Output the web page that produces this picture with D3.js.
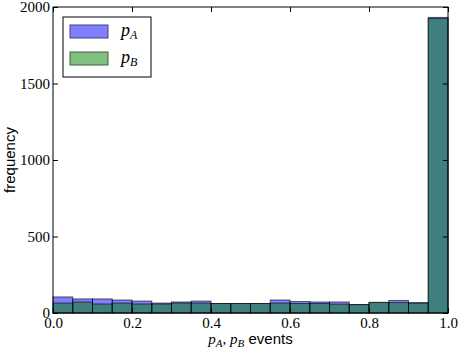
<!DOCTYPE html>
<html><head><meta charset="utf-8">
<script src="https://cdn.jsdelivr.net/npm/d3@7"></script>
<style>
html,body{margin:0;padding:0;background:#fff;}
svg{display:block;}
</style>
</head><body>
<svg id="chart" width="458" height="350"></svg>
<script>
const binEdges = d3.range(0, 21).map(i => i / 20);
const countsA = [105, 92, 92, 85, 78, 65, 72, 78, 62, 62, 62, 85, 75, 72, 72, 55, 68, 82, 68, 1932];
const countsB = [65, 72, 59, 65, 59, 59, 65, 65, 62, 62, 62, 65, 62, 62, 58, 55, 70, 68, 64, 1925];
const xTicks = [0, 0.2, 0.4, 0.6, 0.8, 1.0];
const yTicks = [0, 500, 1000, 1500, 2000];
const seriesNames = ["A", "B"];

const svg = d3.select("#chart");
const L = 53, R = 448, T = 7, B = 313;
const x = d3.scaleLinear().domain([0, 1]).range([L, R]);
const y = d3.scaleLinear().domain([0, 2000]).range([B, T]);

const series = [
  {counts: countsA, fill: "rgb(0,0,255)"},
  {counts: countsB, fill: "rgb(0,128,0)"}
];
series.forEach(s => {
  svg.append("g").selectAll("rect").data(s.counts).join("rect")
    .attr("x", (d, i) => x(binEdges[i]))
    .attr("width", (d, i) => x(binEdges[i + 1]) - x(binEdges[i]))
    .attr("y", d => y(d))
    .attr("height", d => y(0) - y(d))
    .attr("fill", s.fill).attr("fill-opacity", 0.5)
    .attr("stroke", "#000").attr("stroke-opacity", 0.6).attr("stroke-width", 1);
});

const serif = "'Liberation Serif', 'DejaVu Serif', serif";
const sans = "'Liberation Sans', Arial, sans-serif";

// axes
const axB = svg.append("g").attr("transform", `translate(0,${B})`)
  .call(d3.axisBottom(x).tickValues(xTicks).tickFormat(d3.format(".1f")).tickSizeInner(-5).tickSizeOuter(0).tickPadding(6));
const axT = svg.append("g").attr("transform", `translate(0,${T})`)
  .call(d3.axisTop(x).tickValues(xTicks).tickFormat("").tickSizeInner(-5).tickSizeOuter(0));
const axL = svg.append("g").attr("transform", `translate(${L},0)`)
  .call(d3.axisLeft(y).tickValues(yTicks).tickFormat(d3.format("d")).tickSizeInner(-5).tickSizeOuter(0).tickPadding(3));
const axR = svg.append("g").attr("transform", `translate(${R},0)`)
  .call(d3.axisRight(y).tickValues(yTicks).tickFormat("").tickSizeInner(-5).tickSizeOuter(0));
[axB, axT, axL, axR].forEach(a => {
  a.select(".domain").remove();
  a.selectAll(".tick line").attr("stroke", "#000");
  a.selectAll("text").attr("font-family", serif).attr("font-size", 15).attr("fill", "#000");
});
axB.selectAll("text").attr("dy", "0.6em");

svg.append("rect").attr("x", L).attr("y", T).attr("width", R - L).attr("height", B - T)
  .attr("fill", "none").attr("stroke", "#000").attr("stroke-width", 1);

// axis labels
svg.append("text").attr("transform", `translate(15,${(T + B) / 2}) rotate(-90)`)
  .attr("text-anchor", "middle").attr("font-family", sans).attr("font-size", 15).text("frequency");

const xl = svg.append("text").attr("x", (L + R) / 2).attr("y", 344).attr("text-anchor", "middle")
  .attr("font-size", 15);
xl.append("tspan").attr("font-family", serif).attr("font-style", "italic").text("p");
xl.append("tspan").attr("font-family", serif).attr("font-style", "italic").attr("font-size", 11).attr("dy", 3).text("A");
xl.append("tspan").attr("font-family", serif).attr("dy", -3).text(", ");
xl.append("tspan").attr("font-family", serif).attr("font-style", "italic").text("p");
xl.append("tspan").attr("font-family", serif).attr("font-style", "italic").attr("font-size", 11).attr("dy", 3).text("B");
xl.append("tspan").attr("font-family", sans).attr("dy", -3).text(" events");

// legend
const lg = svg.append("g");
lg.append("rect").attr("x", 63).attr("y", 17).attr("width", 88).attr("height", 60)
  .attr("fill", "#fff").attr("stroke", "#000").attr("stroke-width", 1);
const legFill = ["rgb(128,128,255)", "rgb(128,191,128)"];
const legEdge = ["rgb(64,64,128)", "rgb(64,96,64)"];
seriesNames.forEach((n, i) => {
  const yy = 25 + i * 27;
  lg.append("rect").attr("x", 70).attr("y", yy).attr("width", 38).attr("height", 13)
    .attr("fill", legFill[i]).attr("stroke", legEdge[i]).attr("stroke-width", 1);
  const t = lg.append("text").attr("x", 121).attr("y", yy + 11).attr("font-family", serif).attr("font-size", 18);
  t.append("tspan").attr("font-style", "italic").text("p");
  t.append("tspan").attr("font-style", "italic").attr("font-size", 12).attr("dy", 3).text(n);
});
</script>
</body></html>
